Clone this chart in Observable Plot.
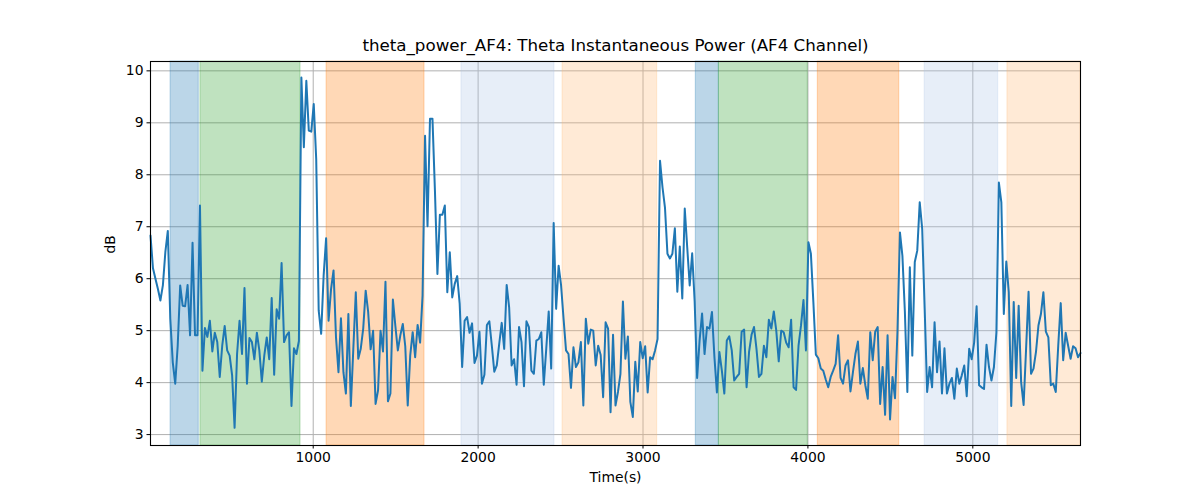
<!DOCTYPE html>
<html>
<head>
<meta charset="utf-8">
<script src="https://cdn.jsdelivr.net/npm/d3@7"></script>
<script src="https://cdn.jsdelivr.net/npm/@observablehq/plot@0.6"></script>
<style>
  html, body { margin: 0; padding: 0; background: #fff; }
  #chart { width: 1200px; height: 500px; }
</style>
</head>
<body>
<div id="chart"></div>
<script>
const titleText = "theta_power_AF4: Theta Instantaneous Power (AF4 Channel)";
const xLabel = "Time(s)";
const yLabel = "dB";

const tStart = 13.3;
const tEnd = 5653;
const xTicks = [1000, 2000, 3000, 4000, 5000];
const yTicks = [3, 4, 5, 6, 7, 8, 9, 10];

// theta power values (dB), read left to right, evenly spaced in time
const power = [
  6.83, 6.2, 6.0, 5.8, 5.58, 5.87, 6.51, 6.92, 5.23, 4.39, 3.98, 4.71, 5.87, 5.48, 5.47, 5.88, 4.91, 6.69, 4.91, 4.91,
  7.41, 4.23, 5.05, 4.88, 5.19, 4.60, 4.96, 4.78, 4.11, 4.71, 5.09, 4.62, 4.52, 4.14, 3.13, 4.55, 5.19, 4.55, 5.82, 3.98,
  4.86, 4.78, 4.45, 4.96, 4.62, 4.02, 4.52, 4.87, 4.45, 5.63, 4.15, 5.41, 5.23, 6.30, 4.78, 4.91, 4.97, 3.55, 4.66, 4.55,
  4.80, 9.87, 8.53, 9.81, 8.85,
  8.83, 9.36, 8.30, 5.39, 4.94, 6.06, 6.78, 5.19, 5.80, 6.16, 4.87, 4.20, 5.24, 4.20, 3.79, 5.32, 3.55, 4.65, 5.74, 4.46,
  4.65, 5.04, 5.77, 5.36, 4.64, 5.00, 3.59, 3.85, 5.00, 4.60, 5.94, 3.64, 3.79, 5.60, 5.09, 4.62, 4.91, 5.13, 4.70, 3.56,
  4.52, 4.97, 4.49, 5.11, 4.77, 5.68, 8.75, 7.01, 9.08, 9.08, 7.69, 6.09, 7.23, 7.23, 7.41, 5.74, 6.51, 5.64, 5.90, 6.05,
  5.52, 4.30, 5.19,
  5.26, 4.96, 5.14, 4.38, 4.52, 4.98, 3.98, 4.15, 5.11, 5.18, 4.71, 4.21, 4.33, 4.75, 5.15, 4.65, 5.88, 5.45, 4.33, 4.45,
  3.96, 5.07, 4.78, 3.93, 5.18, 5.07, 4.23, 4.17, 4.81, 4.84, 4.97, 3.96, 4.65, 5.37, 4.27, 7.07, 5.42, 6.25, 5.87, 5.23,
  4.62, 4.55, 3.90, 4.68, 4.30, 4.39, 4.78, 3.56, 5.23, 4.75, 5.02, 5.00, 4.33, 4.71, 4.53, 3.72, 5.16, 5.04, 3.43, 4.92,
  3.56, 3.82,
  4.17, 5.56, 4.46, 4.89, 3.63, 3.34, 4.40, 3.83, 4.78, 4.47, 4.70, 3.81, 4.49, 4.45, 4.62, 4.84, 8.27, 7.76, 7.37, 6.48,
  6.39, 6.48, 6.97, 5.75, 6.62, 5.62, 7.35, 6.60, 5.87, 6.49, 5.56, 4.09, 4.81, 5.33, 4.55, 5.07, 5.04, 5.36, 4.49, 3.81,
  4.59, 4.23, 3.79, 4.81, 4.89, 4.62, 4.04, 4.11, 4.17, 4.98, 5.02, 3.91, 4.59, 4.92, 5.07, 4.65, 4.11, 4.17, 4.71, 4.49,
  5.21, 5.04, 5.37,
  5.00, 4.41, 5.00, 4.97, 4.77, 4.68, 5.21, 3.91, 3.86, 4.71, 5.10, 5.59, 4.62, 6.70, 6.48, 5.55, 4.54, 4.47, 4.27, 4.23,
  4.06, 3.91, 4.11, 4.23, 4.36, 4.91, 4.09, 3.98, 4.33, 4.43, 3.83, 4.20, 4.55, 4.79, 3.98, 4.28, 3.95, 3.69, 4.97, 4.43,
  4.98, 5.07, 3.59, 4.30, 3.38, 4.91, 3.29, 4.11, 3.70, 4.98, 6.89, 6.44, 5.36, 3.82, 6.22, 4.52, 6.32, 6.54, 7.47, 6.96,
  5.42, 3.82, 4.30,
  3.91, 5.16, 4.20, 4.79, 3.79, 4.66, 3.79, 3.98, 4.09, 3.69, 4.27, 3.98, 4.14, 4.33, 3.74, 4.65, 4.45, 4.77, 5.47, 3.95,
  3.91, 3.88, 4.73, 4.30, 4.04, 4.30, 4.97, 7.85, 7.47, 5.32, 6.33, 5.74, 3.55, 5.55, 4.09, 5.48, 4.01, 3.57, 4.65, 5.75,
  4.17, 4.27, 4.59, 5.10, 5.32, 5.74, 4.98, 4.87, 3.95, 3.98, 3.82, 4.71, 5.53, 4.43, 4.96, 4.71, 4.46, 4.70, 4.66, 4.49,
  4.57
];

// shaded phases
const spanStart = [135, 316, 1081, 1899, 2512, 3320, 3460, 4060, 4708, 5210];
const spanEnd   = [306, 923, 1675, 2463, 3086, 3460, 3999, 4554, 5154, 5653];
const spanColor = ["#1f77b4", "#2ca02c", "#ff7f0e", "#aec7e8", "#ffbb78",
                   "#1f77b4", "#2ca02c", "#ff7f0e", "#aec7e8", "#ffbb78"];

const step = (tEnd - tStart) / (power.length - 1);
const series = power.map((v, i) => ({t: tStart + i * step, v}));
const spans = spanStart.map((s, i) => ({x1: s, x2: spanEnd[i], c: spanColor[i]}));

const chart = Plot.plot({
  width: 1200,
  height: 500,
  marginLeft: 150,
  marginRight: 120,
  marginTop: 61,
  marginBottom: 55,
  style: {fontFamily: "'DejaVu Sans', sans-serif", fontSize: "13.9px", color: "#000", background: "#fff"},
  x: {domain: [tStart, tEnd]},
  y: {domain: [2.79, 10.18]},
  marks: [
    Plot.gridX(xTicks, {stroke: "#b0b0b0", strokeOpacity: 1, strokeWidth: 1}),
    Plot.gridY(yTicks, {stroke: "#b0b0b0", strokeOpacity: 1, strokeWidth: 1}),
    Plot.rect(spans, {x1: "x1", x2: "x2", fill: "c", fillOpacity: 0.3, stroke: "c", strokeOpacity: 0.3, strokeWidth: 1}),
    Plot.line(series, {x: "t", y: "v", stroke: "#1f77b4", strokeWidth: 2, curve: "linear"}),
    Plot.frame({stroke: "#000", strokeWidth: 1.1}),
    Plot.axisX({ticks: xTicks, tickSize: 3.5, tickPadding: 3.5, label: null, tickFormat: d => String(d), fontSize: 13.9}),
    Plot.axisY({ticks: yTicks, tickSize: 3.5, tickPadding: 3.5, label: null, tickFormat: d => String(d), fontSize: 13.9}),
    Plot.text([titleText], {text: d => d, frameAnchor: "top", dy: -11, fontSize: 16.7, lineAnchor: "bottom"}),
    Plot.text([xLabel], {text: d => d, frameAnchor: "bottom", dy: 36, fontSize: 13.9}),
    Plot.text([yLabel], {text: d => d, frameAnchor: "left", dx: -40, rotate: -90, fontSize: 13.9})
  ]
});
document.getElementById("chart").appendChild(chart);
</script>
</body>
</html>
